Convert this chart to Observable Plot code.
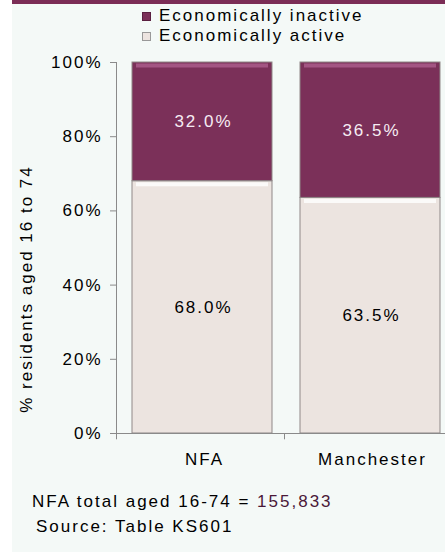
<!DOCTYPE html>
<html><head><meta charset="utf-8">
<script src="https://cdn.jsdelivr.net/npm/d3@7"></script>
<script src="https://cdn.jsdelivr.net/npm/@observablehq/plot@0.6"></script>
<style>
body{margin:0;width:445px;height:552px;background:#fff;overflow:hidden;font-family:"Liberation Sans",Arial,sans-serif;position:relative;}
#frame{position:absolute;left:12px;top:0;width:433px;height:552px;background:#f4f9f7;border-top:4px solid #7b2d56;box-sizing:border-box;}
#legend{position:absolute;left:142px;top:6px;font-size:17px;letter-spacing:2px;color:#000;}
.row{display:flex;align-items:center;height:20px;white-space:nowrap;}
.sw{width:7px;height:7px;margin-right:8px;border:1px solid #888;}
#chart{position:absolute;left:0;top:48px;}
.cap{position:absolute;font-size:17px;letter-spacing:2px;color:#000;white-space:nowrap;line-height:20px;}
#ytitle{position:absolute;left:-123px;top:279px;width:300px;height:20px;text-align:center;transform:rotate(-90deg);transform-origin:150px 10px;}
</style></head>
<body>
<div id="frame"></div>
<div id="legend"></div>
<div id="chart"></div>
<div class="cap" id="ytitle"></div>
<div class="cap" id="cap1" style="left:32px;top:492px;"></div>
<div class="cap" id="cap2" style="left:36px;top:517px;"></div>
<script>
const areas = ["NFA", "Manchester"];
const statuses = ["Economically active", "Economically inactive"];
const activePct = [68.0, 63.5];
const inactivePct = [32.0, 36.5];
const yTicks = [0, 20, 40, 60, 80, 100];
const yTitle = "% residents aged 16 to 74";
const totalLabel = "NFA total aged 16-74 = ";
const totalValue = "155,833";
const sourceLabel = "Source: Table KS601";
const colors = ["#ece4e0", "#7b3059"];
const highlights = ["#fbfaf9", "#a35583"];

const rows = [];
areas.forEach((a, i) => rows.push({area: a, status: statuses[0], value: activePct[i]}));
areas.forEach((a, i) => rows.push({area: a, status: statuses[1], value: inactivePct[i]}));

// legend (inactive first, as in reference)
const legend = document.getElementById("legend");
[1, 0].forEach(k => {
  const r = document.createElement("div"); r.className = "row";
  const s = document.createElement("span"); s.className = "sw"; s.style.background = colors[k];
  s.style.borderColor = k ? "#5a1f40" : "#999";
  const t = document.createElement("span"); t.textContent = statuses[k];
  r.append(s, t); legend.append(r);
});

document.getElementById("ytitle").textContent = yTitle;
document.getElementById("cap1").innerHTML = totalLabel + '<span style="color:#4a1838">' + totalValue + '</span>';
document.getElementById("cap2").textContent = sourceLabel;

const axisColor = "#8a8a8a";
const chart = Plot.plot({
  width: 445, height: 420,
  marginTop: 14, marginBottom: 35, marginLeft: 116, marginRight: 0,
  style: {background: "transparent", fontFamily: '"Liberation Sans", Arial, sans-serif', fontSize: "17px", letterSpacing: "2px", color: "#000", overflow: "visible"},
  x: {domain: areas, range: [116, 452], padding: 0, axis: null},
  y: {domain: [0, 100], axis: null},
  color: {domain: statuses, range: colors},
  marks: [
    Plot.barY(rows, Plot.stackY({x: "area", y: "value", fill: "status", stroke: "#8f8888", strokeWidth: 1, insetLeft: 16, insetRight: 12})),
    Plot.tickY(rows, Plot.stackY2({x: "area", y: "value", stroke: d => highlights[statuses.indexOf(d.status)], strokeWidth: 4, dy: 3, insetLeft: 20, insetRight: 16})),
    Plot.text(rows, Plot.stackY({x: "area", y: "value", text: d => d.value.toFixed(1) + "%", fill: d => d.status === statuses[1] ? "#f6ecf3" : "#000", dx: 3, fontSize: 17})),
    Plot.ruleY([0], {stroke: axisColor}),
    Plot.ruleX([areas[0]], {y1: 0, y2: 100, dx: -84, stroke: axisColor}),
    Plot.ruleX(areas, {y1: 0, y2: -1.7, dx: -84, stroke: axisColor}),
    Plot.axisY({ticks: yTicks, tickFormat: d => d + "%", tickSize: 6, tickPadding: 8, stroke: axisColor, fill: "#000", label: null}),
    Plot.axisX({tickSize: 0, tickPadding: 19, fill: "#000", label: null, dx: 4})
  ]
});
document.getElementById("chart").append(chart);
</script>
</body></html>
